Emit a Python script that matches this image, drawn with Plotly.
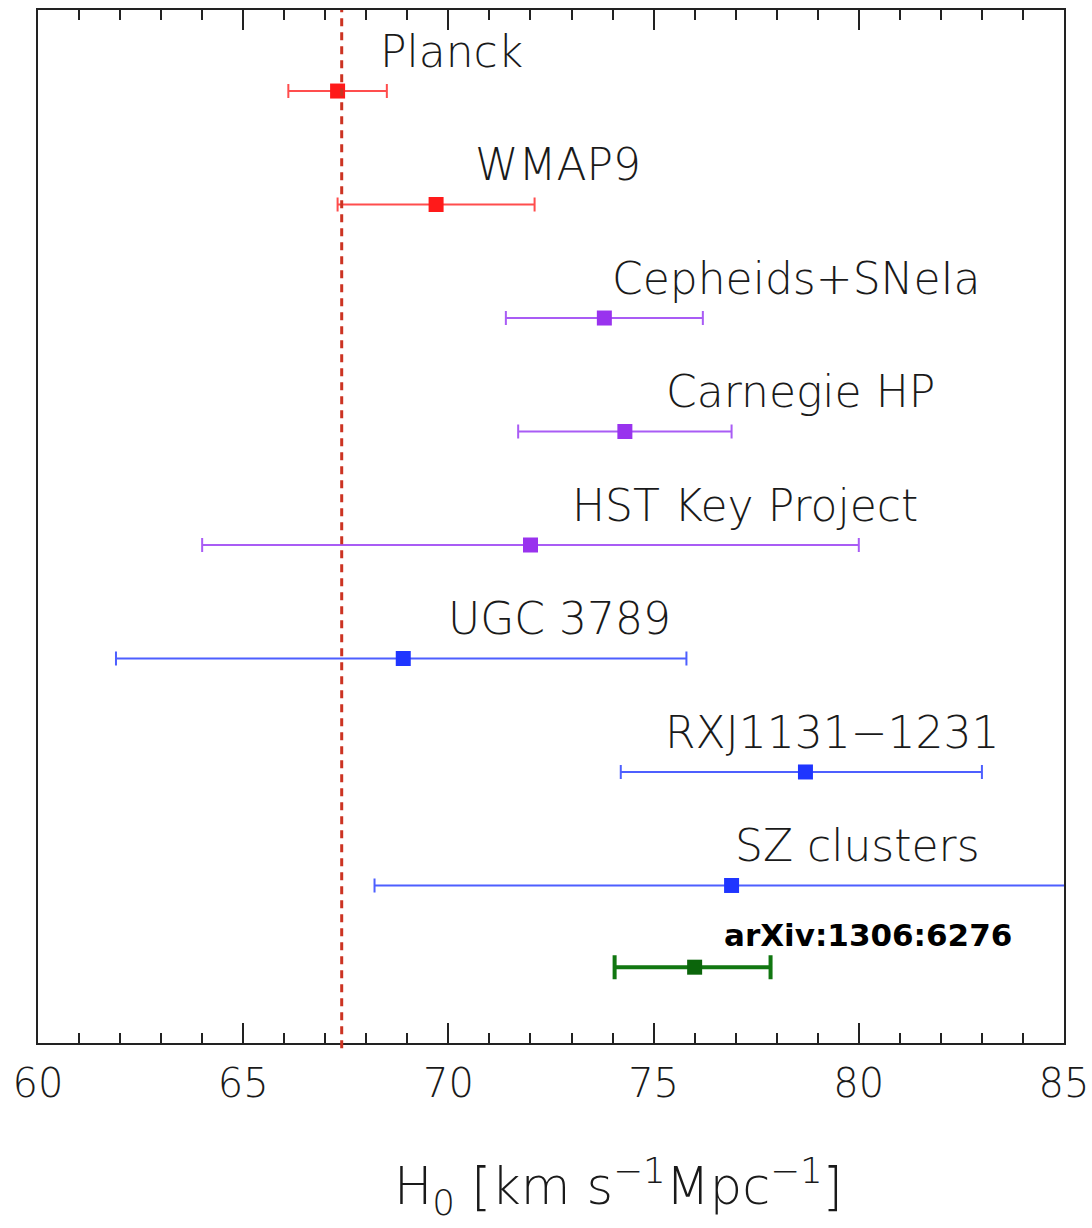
import plotly.graph_objects as go

# ---- data ----
names = ["Planck", "WMAP9", "Cepheids+SNeIa", "Carnegie HP",
         "HST Key Project", "UGC 3789", "RXJ1131\u22121231", "SZ clusters"]
h0 = [67.3, 69.7, 73.8, 74.3, 72.0, 68.9, 78.7, 76.9]
err_minus = [1.2, 2.4, 2.4, 2.6, 8.0, 7.0, 4.5, 8.7]
err_plus = [1.2, 2.4, 2.4, 2.6, 8.0, 6.9, 4.3, 8.7]
rows = [9, 8, 7, 6, 5, 4, 3, 2]
groups = ["cmb", "cmb", "ladder", "ladder", "ladder", "other", "other", "other"]
label_x = [68.28, 70.60, 73.93, 75.25, 72.96, 69.94, 75.23, 76.93]

new_name = "arXiv:1306:6276"
new_h0 = 76.0
new_err_minus = 1.95
new_err_plus = 1.85
new_row = 1.28
new_label_x = 76.66

planck_line = 67.4

colors = {"cmb": "#ff1a1a", "ladder": "#9933ee", "other": "#1f35ff"}
bar_colors = {"cmb": "#ff4d4d", "ladder": "#a95cf5", "other": "#4d5fff"}

FONT = "DejaVu Sans"

fig = go.Figure()

for g in ["cmb", "ladder", "other"]:
    idx = [i for i, gg in enumerate(groups) if gg == g]
    fig.add_trace(go.Scatter(
        x=[h0[i] for i in idx], y=[rows[i] for i in idx],
        mode="markers",
        marker=dict(symbol="square", size=15, color=colors[g]),
        error_x=dict(type="data", symmetric=False,
                     array=[err_plus[i] for i in idx],
                     arrayminus=[err_minus[i] for i in idx],
                     color=bar_colors[g], thickness=2, width=7),
        showlegend=False, hoverinfo="skip",
    ))

fig.add_trace(go.Scatter(
    x=[new_h0], y=[new_row], mode="markers",
    marker=dict(symbol="square", size=15, color="#0b650b"),
    error_x=dict(type="data", symmetric=False, array=[new_err_plus],
                 arrayminus=[new_err_minus], color="#117711",
                 thickness=4, width=12),
    showlegend=False, hoverinfo="skip",
))

for n, lx, r in zip(names, label_x, rows):
    fig.add_annotation(x=lx, y=r + 0.35, text=n, showarrow=False,
                       xanchor="left", yanchor="middle",
                       font=dict(family=FONT, size=44, color="#1a1a1a",
                                 weight=200))

fig.add_annotation(x=new_label_x, y=new_row + 0.28, text=new_name,
                   showarrow=False, xanchor="left", yanchor="middle",
                   font=dict(family=FONT, size=31, color="#000000",
                             weight="bold"))

fig.add_shape(type="line", x0=planck_line, x1=planck_line, xref="x",
              y0=-0.005, y1=1, yref="paper",
              line=dict(color="#cc3322", width=3, dash="8px,6px"))

fig.add_annotation(x=0.566, xref="paper", y=-0.139, yref="paper",
                   text="H<sub>0</sub> [km s<sup>\u22121</sup>Mpc<sup>\u22121</sup>]",
                   showarrow=False, xanchor="center", yanchor="middle",
                   font=dict(family=FONT, size=51, color="#1a1a1a", weight=200))

fig.update_xaxes(range=[60, 85], tick0=60, dtick=5, ticks="inside", ticklen=20,
                 tickwidth=2, tickcolor="#222", showline=True, linewidth=2,
                 linecolor="#222", mirror="ticks", showgrid=False, zeroline=False,
                 ticklabelstandoff=4, automargin=False,
                 tickfont=dict(family=FONT, size=40, color="#1a1a1a", weight=200),
                 minor=dict(dtick=1, ticks="inside", ticklen=10, tickwidth=2,
                            tickcolor="#222", showgrid=False))
fig.update_yaxes(range=[0.612, 9.714], showticklabels=False, ticks="",
                 showline=True, linewidth=2, linecolor="#222", mirror=True,
                 showgrid=False, zeroline=False, automargin=False)

fig.update_layout(width=1092, height=1228, plot_bgcolor="white",
                  paper_bgcolor="white",
                  margin=dict(l=38, r=28, t=10, b=185))

fig.write_html("out.html")
